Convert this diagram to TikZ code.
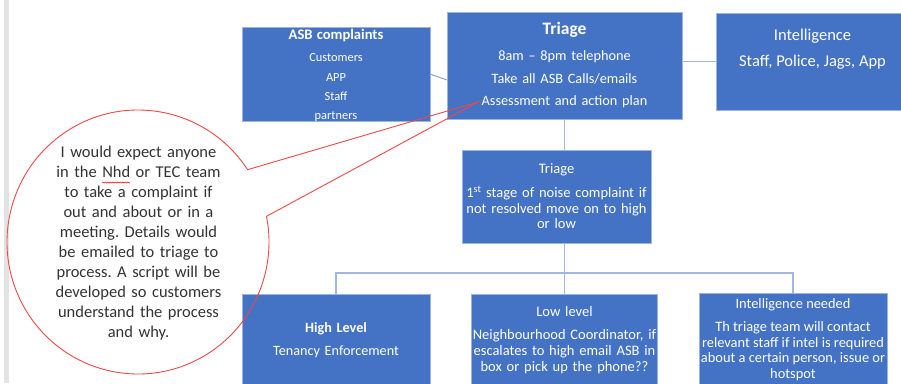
\documentclass[tikz,border=0pt]{standalone}
\usepackage{fontspec}
\setmainfont{Carlito}
\usetikzlibrary{shapes.callouts,decorations.pathmorphing}
\definecolor{boxblue}{HTML}{4472C4}
\definecolor{boxedge}{HTML}{9DB4E0}
\definecolor{conn}{HTML}{A3B6DF}
\definecolor{slant}{HTML}{8EA2CC}
\definecolor{calloutred}{HTML}{F04848}
\definecolor{txt}{HTML}{333333}
\definecolor{strip}{HTML}{E3E3E3}
\begin{document}
\frenchspacing
\begin{tikzpicture}[x=1pt,y=-1pt,
  box/.style={draw=boxedge, line width=0.8pt, fill=boxblue, text=white,
    inner sep=0pt, outer sep=0pt, align=center},
  boxtext/.style={text=white, align=center, inner sep=0pt},
  link/.style={draw=conn, line width=1.8pt},
  slantlink/.style={draw=slant, line width=1pt},
  bubble/.style={ellipse callout, draw=calloutred, line width=0.9pt,
    inner sep=0pt, outer sep=0pt},
  squiggle/.style={draw=red, line width=0.5pt,
    decorate, decoration={snake, amplitude=0.6pt, segment length=2.5pt}},
  ]
\clip (0,0) rectangle (901,383);
\fill[white] (0,0) rectangle (901,383);
\fill[strip] (4,0) rectangle (9,383);

% boxes
\node[box, minimum width=188, minimum height=94] (asb) at (336,74) {};
\node[boxtext, text width=188, font=\fontsize{12.4}{19.3}\selectfont] (asbtext) at (336,75.5)
  {{\fontsize{14.6}{17}\selectfont\bfseries ASB complaints}\\[3pt]
   Customers\\ APP\\ Staff\\ partners};

\node[box, minimum width=235, minimum height=107, text width=235,
  font=\fontsize{14.3}{22.5}\selectfont] (triage) at (564.5,65.5)
  {{\fontsize{17.5}{20}\selectfont\bfseries Triage}\\[3.5pt]
   8am – 8pm telephone\\ Take all ASB Calls/emails\\ Assessment and action plan};

\node[box, minimum width=193, minimum height=97] (intel) at (812.5,61.5) {};
\node[boxtext, font=\fontsize{16.5}{26}\selectfont] (inteltext) at (812.5,49)
  {Intelligence\\ Staff, Police, Jags, App};

\node[box, minimum width=189, minimum height=93, text width=189,
  font=\fontsize{14.5}{15.5}\selectfont] (triage2) at (556.5,196.5)
  {Triage\\[8.5pt]
   1\textsuperscript{st} stage of noise complaint if\\
   not resolved move on to high\\ or low};

\node[box, minimum width=188, minimum height=92, text width=188,
  font=\fontsize{14.2}{16}\selectfont] (high) at (336,340)
  {{\bfseries High Level}\\[7pt] Tenancy Enforcement};

\node[box, minimum width=186, minimum height=92, text width=186,
  font=\fontsize{14.5}{16}\selectfont] (low) at (564.5,340)
  {Low level\\[7pt]
   Neighbourhood Coordinator, if\\
   escalates to high email ASB in\\
   box or pick up the phone??};

\node[box, minimum width=188, minimum height=93] (intelneed) at (793,339.5) {};
\node[boxtext, font=\fontsize{14.4}{15.5}\selectfont] (intelneedtext) at (793,339.5)
  {Intelligence needed\\[7.5pt]
   Th triage team will contact\\
   relevant staff if intel is required\\
   about a certain person, issue or\\
   hotspot};

% connectors
\coordinate (bus) at (564.5,273);
\draw[slantlink] (asb.east) -- ([yshift=-14.5pt]triage.west);
\draw[link] (triage.east |- intel.west) -- (intel.west);
\draw[link] (triage.south) -- (triage.south |- triage2.north);
\draw[link] (triage2.south -| bus) -- (bus);
\draw[link] (high.north) |- (bus) -| (intelneed.north);
\draw[link] (bus) -- (low.north);

% callout
\coordinate (tip) at (478,102);
\node[bubble, minimum width=262, minimum height=264,
  callout absolute pointer={(tip)}, callout pointer arc=22] (callout) at (138,242) {};
\node[text=txt, align=center, text width=200, inner sep=0pt,
  font=\fontsize{16.5}{20}\selectfont\frenchspacing] (note) at (138.5,243)
  {I would expect anyone\\
   in the Nhd or TEC team\\
   to take a complaint if\\
   out and about or in a\\
   meeting. Details would\\
   be emailed to triage to\\
   process. A script will be\\
   developed so customers\\
   understand the process\\
   and why.};
\coordinate (sqa) at (102,182.5);
\coordinate (sqb) at (130,182.5);
\draw[squiggle] (sqa) -- (sqb);
\end{tikzpicture}
\end{document}
